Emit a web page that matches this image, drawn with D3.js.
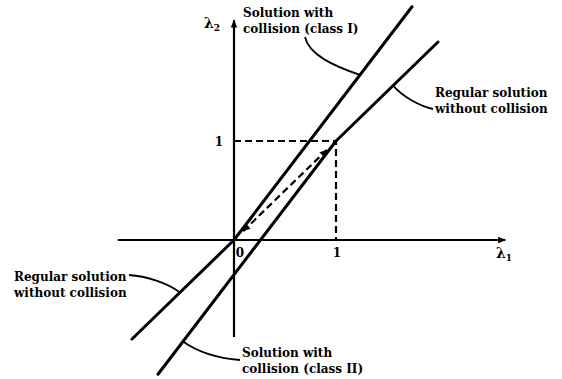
<!DOCTYPE html>
<html>
<head>
<meta charset="utf-8">
<script src="https://cdn.jsdelivr.net/npm/d3@7"></script>
<style>
  html, body { margin: 0; padding: 0; background: #fff; }
  svg text { font-family: "DejaVu Serif", "Liberation Serif", serif; font-weight: bold; fill: #000; }
</style>
</head>
<body>
<svg id="chart" width="562" height="379"></svg>
<script>
// λ1–λ2 solution branches (data units)
const collisionSlope = 1.35;
const regularLower = [[-1, -1], [0, 0]];
const regularUpper = [[1, 1], [2, 2]];
const regularDashed = [[0, 0], [1, 1]];
const classIRange = [0, 1.745];     // λ2 = k·λ1
const classIIRange = [-0.745, 1];   // λ2 = 1 + k·(λ1 − 1)
const unitGuide = [[0, 1], [1, 1], [1, 0]];

// axes
const xAxisExtent = [-1.14, 2.66];
const yAxisExtent = [-0.98, 2.22];
const tickValues = [0, 1];
const tickLabels = ["0", "1"];

// leader anchors on the branches (λ1 values)
const anchorClassI = 1.235;
const anchorRegularUpper = 1.56;
const anchorRegularLower = -0.53;
const anchorClassII = -0.5;

const classI = l1 => collisionSlope * l1;
const classII = l1 => 1 + collisionSlope * (l1 - 1);

const svg = d3.select("#chart");
const x = d3.scaleLinear().domain([0, 1]).range([234, 336]);
const y = d3.scaleLinear().domain([0, 1]).range([240, 141]);

const defs = svg.append("defs");
defs.append("marker").attr("id", "axisArrow")
  .attr("viewBox", "0 0 10 10").attr("refX", 9).attr("refY", 5)
  .attr("markerWidth", 10).attr("markerHeight", 8).attr("markerUnits", "userSpaceOnUse")
  .attr("orient", "auto")
  .append("path").attr("d", "M0,1 L10,5 L0,9 Z").attr("fill", "#000");
defs.append("marker").attr("id", "dashArrow")
  .attr("viewBox", "0 0 10 10").attr("refX", 10).attr("refY", 5)
  .attr("markerWidth", 9).attr("markerHeight", 7).attr("markerUnits", "userSpaceOnUse")
  .attr("orient", "auto-start-reverse")
  .append("path").attr("d", "M0,0 L10,5 L0,10 Z").attr("fill", "#000");

const line = d3.line().x(d => x(d[0])).y(d => y(d[1]));

// axes
svg.append("line")
  .attr("x1", x(xAxisExtent[0])).attr("y1", y(0))
  .attr("x2", x(xAxisExtent[1])).attr("y2", y(0))
  .attr("stroke", "#000").attr("stroke-width", 2.2)
  .attr("marker-end", "url(#axisArrow)");
svg.append("line")
  .attr("x1", x(0)).attr("y1", y(yAxisExtent[0]))
  .attr("x2", x(0)).attr("y2", y(yAxisExtent[1]))
  .attr("stroke", "#000").attr("stroke-width", 2.2)
  .attr("marker-end", "url(#axisArrow)");

// unit guides
svg.append("path").attr("d", line(unitGuide))
  .attr("fill", "none").attr("stroke", "#000").attr("stroke-width", 2.2)
  .attr("stroke-dasharray", "7,4");

// regular solution, dashed stretch between 0 and 1 with arrows
const dA = regularDashed[0], dB = regularDashed[1];
const shrink = 0.09;
svg.append("path")
  .attr("d", line([[dA[0] + shrink, dA[1] + shrink], [dB[0] - shrink, dB[1] - shrink]]))
  .attr("fill", "none").attr("stroke", "#000").attr("stroke-width", 2.2)
  .attr("stroke-dasharray", "7,4")
  .attr("marker-start", "url(#dashArrow)")
  .attr("marker-end", "url(#dashArrow)");

// solid branches
const branches = [
  regularLower,
  regularUpper,
  classIRange.map(v => [v, classI(v)]),
  classIIRange.map(v => [v, classII(v)])
];
svg.selectAll("path.branch").data(branches).enter().append("path")
  .attr("class", "branch")
  .attr("d", d => line(d))
  .attr("fill", "none").attr("stroke", "#000").attr("stroke-width", 3)
  .attr("stroke-linecap", "round");

// tick labels
svg.selectAll("text.xtick").data(tickValues).enter().append("text")
  .attr("class", "xtick")
  .attr("x", d => x(d) + (d === 0 ? 6 : 1)).attr("y", y(0) + 17)
  .attr("text-anchor", "middle").attr("font-size", 12)
  .text((d, i) => tickLabels[i]);
svg.append("text").attr("x", x(0) - 15).attr("y", y(1) + 5)
  .attr("text-anchor", "middle").attr("font-size", 12).text(tickLabels[1]);

// axis titles
const l1t = svg.append("text").attr("x", 496).attr("y", 258).attr("font-size", 14);
l1t.append("tspan").text("λ");
l1t.append("tspan").attr("font-size", 9).attr("dy", 3).text("1");
const l2t = svg.append("text").attr("x", 204).attr("y", 28).attr("font-size", 14);
l2t.append("tspan").text("λ");
l2t.append("tspan").attr("font-size", 9).attr("dy", 3).text("2");

// annotations
function label(lines, x0, y0) {
  const t = svg.append("text").attr("x", x0).attr("y", y0).attr("font-size", 12);
  lines.forEach((s, i) => t.append("tspan").attr("x", x0).attr("dy", i ? 16 : 0).text(s));
}
label(["Solution with", "collision (class I)"], 243, 17);
label(["Regular solution", "without collision"], 435, 97);
label(["Regular solution", "without collision"], 14, 281);
label(["Solution with", "collision (class II)"], 242, 357);

function leader(p0, c1, c2, p1) {
  const p = d3.path();
  p.moveTo(p0[0], p0[1]);
  p.bezierCurveTo(c1[0], c1[1], c2[0], c2[1], p1[0], p1[1]);
  svg.append("path").attr("d", p.toString())
    .attr("fill", "none").attr("stroke", "#000").attr("stroke-width", 1.8);
}
const aI = [x(anchorClassI), y(classI(anchorClassI))];
leader([305, 37], [309, 55], [334, 66], aI);
const aRU = [x(anchorRegularUpper), y(anchorRegularUpper)];
leader(aRU, [403, 97], [420, 106], [433, 109]);
const aRL = [x(anchorRegularLower), y(anchorRegularLower)];
leader([129, 275], [146, 276], [168, 283], aRL);
const aII = [x(anchorClassII), y(classII(anchorClassII))];
leader(aII, [195, 350], [215, 358], [240, 360]);
</script>
</body>
</html>
